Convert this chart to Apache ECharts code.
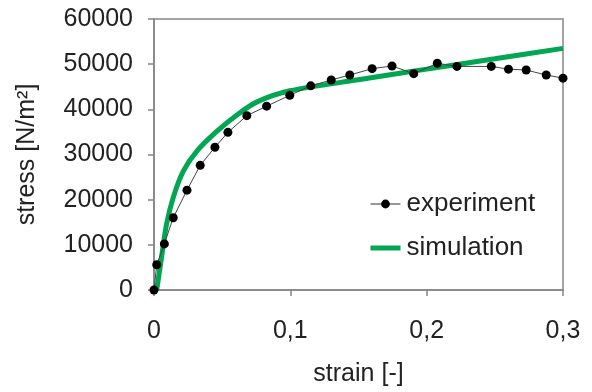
<!DOCTYPE html>
<html><head><meta charset="utf-8">
<script src="https://cdn.jsdelivr.net/npm/echarts@6/dist/echarts.min.js"></script>
<style>html,body{margin:0;padding:0;background:#fff}#c{width:592px;height:392px}</style>
</head><body><div id="c"></div>
<script>
const expStrain = [0, 0.002, 0.0076, 0.0141, 0.0242, 0.0339, 0.0447, 0.0542, 0.0681, 0.0826, 0.0996, 0.115, 0.130, 0.1436, 0.160, 0.1746, 0.1905, 0.2078, 0.2222, 0.2474, 0.260, 0.273, 0.2877, 0.300];
const expStress = [0, 5600, 10200, 16000, 22100, 27600, 31600, 34900, 38600, 40700, 43100, 45200, 46500, 47600, 49000, 49600, 47900, 50200, 49500, 49500, 48900, 48700, 47600, 46900];
const simStrain = [0.002, 0.0056, 0.0093, 0.0141, 0.0215, 0.0313, 0.046, 0.0606, 0.0752, 0.0996, 0.151, 0.2, 0.25, 0.3];
const simStress = [0, 7400, 14700, 20500, 26300, 30700, 35100, 38700, 41600, 44100, 46600, 48900, 51200, 53500];
const xTicks = [0, 0.1, 0.2, 0.3];
const yTicks = [0, 10000, 20000, 30000, 40000, 50000, 60000];

const font = 'Liberation Sans, Arial, sans-serif';
const axisCol = '#858585';
const green = '#00a651';
const chart = echarts.init(document.getElementById('c'));
chart.setOption({
  animation: false,
  grid: {left: 154, right: 29, top: 19, bottom: 98, show: true, borderColor: axisCol, borderWidth: 1.5},
  legend: {
    left: 363, top: 186, orient: 'vertical', itemGap: 18, itemWidth: 30, itemHeight: 11,
    textStyle: {fontFamily: font, fontSize: 26, color: '#222', padding: [0,0,0,1]},
    data: [
      {name: 'experiment', lineStyle: {width: 1, color: '#333'}},
      {name: 'simulation', lineStyle: {width: 5, color: green}, itemStyle: {opacity: 0}}
    ]
  },
  xAxis: {
    type: 'value', min: 0, max: 0.3, interval: 0.1,
    name: 'strain [-]', nameLocation: 'middle', nameGap: 72,
    nameTextStyle: {fontFamily: font, fontSize: 25, color: '#222'},
    axisLine: {lineStyle: {color: axisCol, width: 1.5}},
    axisTick: {show: true, inside: false, length: 6, lineStyle: {color: axisCol, width: 1.5}},
    axisLabel: {fontFamily: font, fontSize: 25, color: '#222', margin: 29,
      formatter: v => xTicks.includes(+v.toFixed(1)) ? String(+v.toFixed(1)).replace('.', ',') : ''},
    splitLine: {show: false}
  },
  yAxis: {
    type: 'value', min: 0, max: 60000, interval: 10000,
    name: 'stress [N/m²]', nameLocation: 'middle', nameGap: 114,
    nameTextStyle: {fontFamily: font, fontSize: 25, color: '#222'},
    axisLine: {show: true, lineStyle: {color: axisCol, width: 1.5}},
    axisTick: {show: true, inside: false, length: 6, lineStyle: {color: axisCol, width: 1.5}},
    axisLabel: {fontFamily: font, fontSize: 25, color: '#222', margin: 21,
      formatter: v => yTicks.includes(v) ? String(v) : ''},
    splitLine: {show: false}
  },
  series: [
    {
      name: 'experiment', type: 'line', data: expStrain.map((x, i) => [x, expStress[i]]),
      symbol: 'circle', symbolSize: 9, showSymbol: true,
      itemStyle: {color: '#000'}, lineStyle: {color: '#444', width: 1}, z: 3
    },
    {
      name: 'simulation', type: 'line', data: simStrain.map((x, i) => [x, simStress[i]]),
      symbol: 'none', smooth: 0.3,
      itemStyle: {color: green}, lineStyle: {color: green, width: 5}, z: 2
    }
  ]
});
</script></body></html>
